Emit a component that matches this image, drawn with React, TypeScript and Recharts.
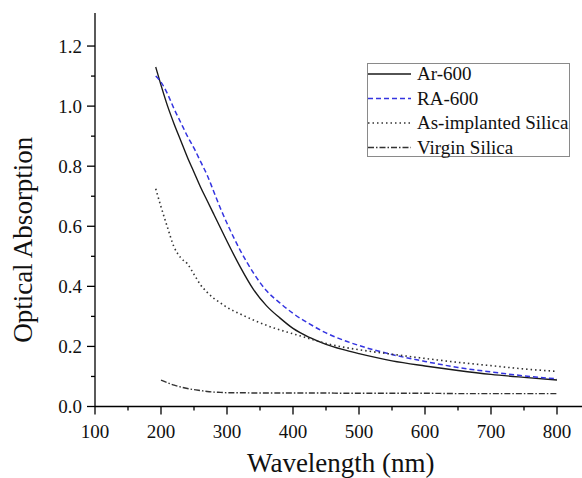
import React from 'react'
import { LineChart, Line, XAxis, YAxis } from 'recharts'

/* ── data ───────────────────────────────────────────────── */

const wavelengths = [
  192, 200, 210, 220, 230, 240, 250, 260, 270, 280, 290, 300, 320, 340, 360, 380, 400,
  425, 450, 475, 500, 550, 600, 650, 700, 750, 800,
]

const ar600 = [
  1.13, 1.07, 1.0, 0.94, 0.885, 0.83, 0.78, 0.73, 0.685, 0.64, 0.595, 0.55, 0.465, 0.39,
  0.335, 0.295, 0.26, 0.23, 0.207, 0.19, 0.176, 0.152, 0.135, 0.12, 0.107, 0.097, 0.088,
]

const ra600 = [
  1.1, 1.08, 1.04, 0.99, 0.945, 0.9, 0.86, 0.815, 0.77, 0.715, 0.66, 0.61, 0.52, 0.445,
  0.385, 0.345, 0.31, 0.275, 0.245, 0.222, 0.203, 0.173, 0.15, 0.13, 0.115, 0.102, 0.092,
]

const asImplanted = [
  0.725, 0.665, 0.595, 0.53, 0.495, 0.475, 0.44, 0.405, 0.38, 0.36, 0.345, 0.33, 0.308,
  0.288, 0.27, 0.255, 0.242, 0.226, 0.21, 0.198, 0.189, 0.174, 0.16, 0.147, 0.136, 0.125,
  0.117,
]

const virgin = [
  null, 0.088, 0.079, 0.071, 0.065, 0.06, 0.056, 0.053, 0.05, 0.048, 0.047, 0.046, 0.046,
  0.045, 0.045, 0.045, 0.045, 0.045, 0.045, 0.044, 0.044, 0.044, 0.044, 0.043, 0.043,
  0.043, 0.043,
]

const xTicks = [100, 150, 200, 250, 300, 350, 400, 450, 500, 550, 600, 650, 700, 750, 800]
const yTicks = [0, 0.1, 0.2, 0.3, 0.4, 0.5, 0.6, 0.7, 0.8, 0.9, 1.0, 1.1, 1.2]
const rightTicks = [0, 0.2, 0.4, 0.6, 0.8, 1.0, 1.2]
const topTicks = [100, 200, 300, 400, 500, 600, 700, 800]

const rows = wavelengths.map((w, i) => ({
  w,
  ar: ar600[i],
  ra: ra600[i],
  asi: asImplanted[i],
  vir: virgin[i],
}))

const series = [
  { key: 'ar', name: 'Ar-600', color: '#1a1a1a', dash: undefined, width: 1.4 },
  { key: 'ra', name: 'RA-600', color: '#3434e0', dash: '5 3', width: 1.5 },
  { key: 'asi', name: 'As-implanted Silica', color: '#333333', dash: '1.5 3', width: 1.6 },
  { key: 'vir', name: 'Virgin Silica', color: '#333333', dash: '6 2 1.5 2', width: 1.4 },
]

const FONT = "'Liberation Serif', 'Times New Roman', Times, 'DejaVu Serif', serif"

/* ── ticks ──────────────────────────────────────────────── */

function BottomTick({ x, y, payload }: any) {
  const major = payload.value % 100 === 0
  return (
    <g>
      <line x1={x} x2={x} y1={y} y2={y + (major ? 8 : 4)} stroke="#000" strokeWidth={1.3} />
      {major ? (
        <text x={x} y={y + 31} textAnchor="middle" fontFamily={FONT} fontSize={19} fill="#111">
          {payload.value}
        </text>
      ) : null}
    </g>
  )
}

function LeftTick({ x, y, payload }: any) {
  const major = Math.round(payload.value * 10) % 2 === 0
  return (
    <g>
      <line x1={x} x2={x - (major ? 8 : 4)} y1={y} y2={y} stroke="#000" strokeWidth={1.3} />
      {major ? (
        <text x={x - 13} y={y + 6.5} textAnchor="end" fontFamily={FONT} fontSize={19} fill="#111">
          {payload.value.toFixed(1)}
        </text>
      ) : null}
    </g>
  )
}

function RightTick({ x, y }: any) {
  return <line x1={x} x2={x - 6} y1={y} y2={y} stroke="#000" strokeWidth={1.3} />
}

function TopTick({ x, y }: any) {
  return <line x1={x} x2={x} y1={y} y2={y + 6} stroke="#000" strokeWidth={1.3} />
}

/* ── legend (overlay box, top right) ────────────────────── */

function LegendBox() {
  return (
    <svg
      width={204}
      height={95}
      style={{ position: 'absolute', left: 367, top: 63, display: 'block' }}
    >
      <rect x={0.5} y={0.5} width={202} height={93} fill="#fff" stroke="#8a8a8a" strokeWidth={1} />
      {series.map((s, i) => {
        const cy = 11 + i * 24.5
        return (
          <g key={s.key}>
            <line
              x1={1}
              x2={44}
              y1={cy}
              y2={cy}
              stroke={s.color}
              strokeWidth={s.width}
              strokeDasharray={s.dash}
            />
            <text x={50} y={cy + 6} fontFamily={FONT} fontSize={19} fill="#111">
              {s.name}
            </text>
          </g>
        )
      })}
    </svg>
  )
}

export default function App() {
  return (
    <div
      style={{
        position: 'absolute',
        left: 0,
        top: 0,
        width: 582,
        height: 478,
        overflow: 'hidden',
        background: '#fff',
        fontFamily: FONT,
      }}
    >
      <LineChart
        width={600}
        height={478}
        data={rows}
        margin={{ top: 13, right: 13.3, bottom: 0, left: 0 }}
        style={{ fontFamily: FONT }}
      >
        <XAxis
          xAxisId="bottom"
          dataKey="w"
          type="number"
          domain={[100, 845]}
          ticks={xTicks}
          interval={0}
          height={71.5}
          tickSize={0}
          tickMargin={0}
          tick={BottomTick}
          axisLine={{ stroke: '#000', strokeWidth: 1.3 }}
          allowDataOverflow
          label={{
            value: 'Wavelength (nm)',
            position: 'insideBottom',
            offset: 6,
            fontFamily: FONT,
            fontSize: 27,
            fill: '#111',
          }}
        />
        <XAxis
          xAxisId="top"
          dataKey="w"
          type="number"
          orientation="top"
          domain={[100, 845]}
          ticks={topTicks}
          interval={0}
          height={0}
          tickSize={0}
          tickMargin={0}
          tick={TopTick}
          axisLine={{ stroke: '#000', strokeWidth: 1.3 }}
          allowDataOverflow
        />
        <YAxis
          yAxisId="left"
          type="number"
          domain={[0, 1.31]}
          ticks={yTicks}
          interval={0}
          width={95}
          tickSize={0}
          tickMargin={0}
          tick={LeftTick}
          axisLine={{ stroke: '#000', strokeWidth: 1.3 }}
          allowDataOverflow
          label={{
            value: 'Optical Absorption',
            angle: -90,
            position: 'insideLeft',
            offset: 22,
            dy: 30,
            fontFamily: FONT,
            fontSize: 27,
            fill: '#111',
            textAnchor: 'middle',
          }}
        />
        <YAxis
          yAxisId="right"
          orientation="right"
          type="number"
          domain={[0, 1.31]}
          ticks={rightTicks}
          interval={0}
          width={0}
          tickSize={0}
          tickMargin={0}
          tick={RightTick}
          axisLine={false}
          allowDataOverflow
        />
        {series.map((s) => (
          <Line
            key={s.key}
            xAxisId="bottom"
            yAxisId="left"
            type="monotone"
            dataKey={s.key}
            name={s.name}
            stroke={s.color}
            strokeWidth={s.width}
            strokeDasharray={s.dash}
            dot={false}
            activeDot={false}
            connectNulls={false}
            isAnimationActive={false}
          />
        ))}
      </LineChart>
      <LegendBox />
    </div>
  )
}
